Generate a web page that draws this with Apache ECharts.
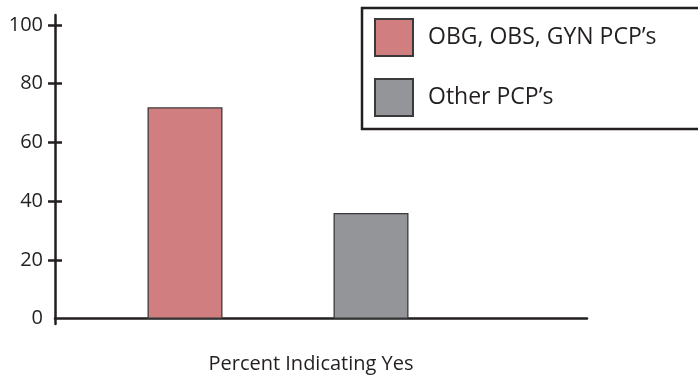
<!DOCTYPE html>
<html>
<head>
<meta charset="utf-8">
<script src="https://cdn.jsdelivr.net/npm/echarts@6/dist/echarts.min.js"></script>
<style>html,body{margin:0;padding:0;background:#fff;}#c{width:698px;height:382px;}</style>
</head>
<body>
<div id="c"></div>
<script>
const categories = ['OBG, OBS, GYN PCP\u2019s', 'Other PCP\u2019s'];
const obgValues = [72, '-'];
const otherValues = ['-', 36];
const yTickValues = [20, 40, 60, 80, 100];
const yLabelValues = [0, 20, 40, 60, 80, 100];
const axisTitle = 'Percent Indicating Yes';

const FONT = 'Open Sans';
const INK = '#231f20';
const Y_MIN = -1.8, Y_MAX = 103.4;

const chart = echarts.init(document.getElementById('c'), null, {renderer: 'canvas'});
chart.setOption({
  animation: false,
  backgroundColor: '#fff',
  textStyle: {fontFamily: FONT},
  title: {
    text: axisTitle, left: 311, top: 354, textAlign: 'center', padding: 0,
    textStyle: {fontFamily: FONT, fontSize: 20, fontWeight: 'normal', color: INK}
  },
  legend: {
    orient: 'vertical', left: 362, top: 8,
    padding: [10, 80, 12, 12],
    itemWidth: 38, itemHeight: 37, itemGap: 21,
    borderColor: INK, borderWidth: 2.5,
    icon: 'rect',
    textStyle: {fontFamily: FONT, fontSize: 23, color: INK, padding: [0, 0, 0, 10]},
    data: categories
  },
  grid: [
    {left: 92, right: 234, top: 15, bottom: 58},
    {left: 55, right: 111, top: 15, bottom: 58}
  ],
  xAxis: [
    {gridIndex: 0, type: 'category', data: categories, show: false},
    {gridIndex: 1, type: 'value', min: 0, max: 1,
     axisLine: {show: true, lineStyle: {color: INK, width: 2.5}},
     axisTick: {show: false}, axisLabel: {show: false}, splitLine: {show: false}}
  ],
  yAxis: [
    {gridIndex: 0, type: 'value', min: Y_MIN, max: Y_MAX, show: false, splitLine: {show: false}},
    {gridIndex: 1, type: 'value', min: Y_MIN, max: Y_MAX, position: 'left',
     axisLine: {show: true, onZero: false, lineStyle: {color: INK, width: 2.5}},
     axisTick: {show: true, inside: false, length: 7, customValues: yTickValues, lineStyle: {color: INK, width: 2.5}},
     axisLabel: {show: true, margin: 12, customValues: yLabelValues, fontFamily: FONT, fontSize: 20, color: INK},
     splitLine: {show: false}},
    {gridIndex: 1, type: 'value', min: Y_MIN, max: Y_MAX, position: 'left',
     axisLine: {show: false},
     axisTick: {show: true, inside: true, length: 7, customValues: yTickValues, lineStyle: {color: INK, width: 2.5}},
     axisLabel: {show: false},
     splitLine: {show: false}}
  ],
  series: [
    {name: categories[0], type: 'bar', xAxisIndex: 0, yAxisIndex: 0, data: obgValues,
     barWidth: 75, barGap: '-100%',
     itemStyle: {color: '#d07e7f', borderColor: '#3a3a3a', borderWidth: 1.3}},
    {name: categories[1], type: 'bar', xAxisIndex: 0, yAxisIndex: 0, data: otherValues,
     barWidth: 75, barGap: '-100%',
     itemStyle: {color: '#939598', borderColor: '#3a3a3a', borderWidth: 1.3}}
  ]
});
</script>
</body>
</html>
